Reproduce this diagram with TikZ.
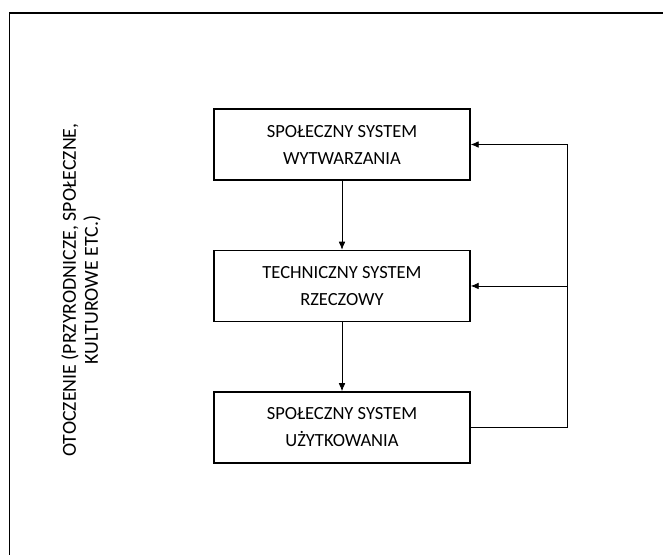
\documentclass[tikz,border=0pt]{standalone}
\usepackage{fontspec}
\setmainfont{Carlito}
\usetikzlibrary{positioning,arrows.meta}
\begin{document}
\begin{tikzpicture}[x=0.75pt,y=-0.75pt,->,>={Latex[length=6pt,width=5pt]},font=\fontsize{13.9}{20.25}\selectfont,
  sysbox/.style={draw,-,line width=1.1pt,minimum width=192pt,minimum height=53.25pt,align=center,inner sep=0pt}]
  \useasboundingbox (0,0) rectangle (663,554);
  \draw [-,line width=1.1pt] (9.5,560) |- (670,13);
  \node [sysbox] (wytw) at (342,144.5) {SPOŁECZNY SYSTEM\\WYTWARZANIA};
  \node [sysbox,below=51.75pt of wytw] (tech) {TECHNICZNY SYSTEM\\RZECZOWY};
  \node [sysbox,below=51.75pt of tech] (uzyt) {SPOŁECZNY SYSTEM\\UŻYTKOWANIA};
  \node [rotate=90,align=center,font=\fontsize{14.9}{16.5}\selectfont] (otocz) at (81,290)
        {OTOCZENIE (PRZYRODNICZE, SPOŁECZNE,\\KULTUROWE ETC.)};
  \draw [line width=0.6pt] (wytw)--(tech);
  \draw [line width=0.6pt] (tech)--(uzyt);
  \draw [line width=0.6pt] (uzyt.east)--++(97,0)coordinate(ret) |- (wytw.east);
  \draw [line width=0.6pt] (ret |- tech.east)--(tech.east);
\end{tikzpicture}
\end{document}
